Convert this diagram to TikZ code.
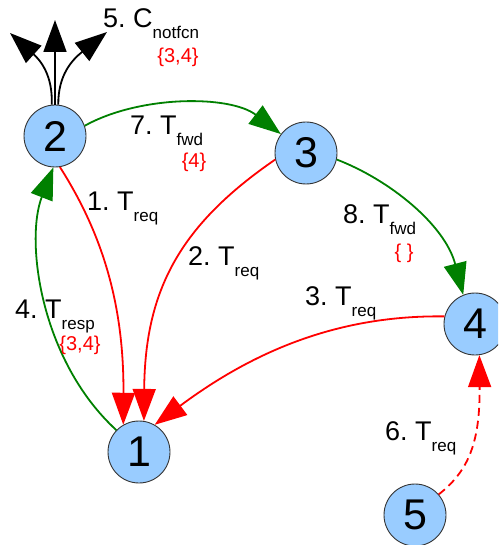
\documentclass[tikz,border=0pt]{standalone}
\usepackage{fontspec}
\setmainfont{Liberation Sans}
\usepackage{tikz}
\usetikzlibrary{arrows.meta}
\definecolor{peerblue}{HTML}{99CCFF}
\definecolor{fwdgreen}{HTML}{008000}
\newcommand{\lowsub}[1]{\raisebox{-11pt}{\fontsize{17}{17}\selectfont #1}}

\begin{document}
\begin{tikzpicture}[x=1pt,y=-1pt,
    peer/.style={circle,draw=black!80,fill=peerblue,line width=0.9pt,
      minimum size=62pt,inner sep=0pt,font=\fontsize{43}{43}\selectfont},
    msg/.style={line width=1.8pt,-{Triangle[length=32pt,width=23pt]}},
    req/.style={msg,red},
    fwd/.style={msg,fwdgreen},
    lbl/.style={anchor=base west,inner sep=0pt,font=\fontsize{27}{27}\selectfont},
    set/.style={text=red,inner sep=0pt,font=\fontsize{20}{20}\selectfont}]
    \clip (0,0) rectangle (498,545);

    % peers
    \node[peer] (n1) at (139,452) {1};
    \node[peer] (n2) at (55,136) {2};
    \node[peer] (n3) at (306,153) {3};
    \node[peer] (n4) at (475,324) {4};
    \node[peer] (n5) at (415,515) {5};

    % notification fan-out from 2
    \coordinate (tl) at (10,33);
    \coordinate (tm) at (55,20);
    \coordinate (tr) at (107,32);
    \draw[msg] (n2.96) .. controls (53,75) and (40,60) .. (tl);
    \draw[msg] (n2.90) -- (tm);
    \draw[msg] (n2.84) .. controls (58,75) and (72,60) .. (tr);

    % messages
    \draw[req] (n2.279) .. controls (100,230) and (124,300) .. (n1.120);
    \draw[req] (n3.192) .. controls (180,225) and (145,290) .. (n1.81);
    \draw[req] (n4.166) .. controls (340,315) and (255,350) .. (n1.60);
    \draw[fwd] (n1.136) .. controls (40,360) and (25,240) .. (n2.267);
    \draw[fwd] (n2.19) .. controls (140,95) and (230,95) .. (n3.143);
    \draw[fwd] (n3.348) .. controls (390,180) and (445,225) .. (n4.112);
    \draw[req,dashed,dash pattern=on 8pt off 5pt]
      (n5.41) .. controls (470,470) and (480,440) .. (n4.278);

    % labels
    \node[lbl] (l1) at (87,210) {1.\ T\lowsub{req}};
    \node[lbl] (l2) at (188,265) {2.\ T\lowsub{req}};
    \node[lbl] (l3) at (305,305) {3.\ T\lowsub{req}};
    \node[lbl] (l4) at (15,318) {4.\ T\lowsub{resp}};
    \node[lbl] (l5) at (103,28) {5.\ C\lowsub{notfcn}};
    \node[lbl] (l6) at (385,440) {6.\ T\lowsub{req}};
    \node[lbl] (l7) at (130,135) {7.\ T\lowsub{fwd}};
    \node[lbl] (l8) at (343,223) {8.\ T\lowsub{fwd}};
    \node[set] (s4) at (80,345) {\{3,4\}};
    \node[set] (s5) at (178,57) {\{3,4\}};
    \node[set] (s7) at (194,162) {\{4\}};
    \node[set] (s8) at (404,253) {\{~\}};
  \end{tikzpicture}
\end{document}
